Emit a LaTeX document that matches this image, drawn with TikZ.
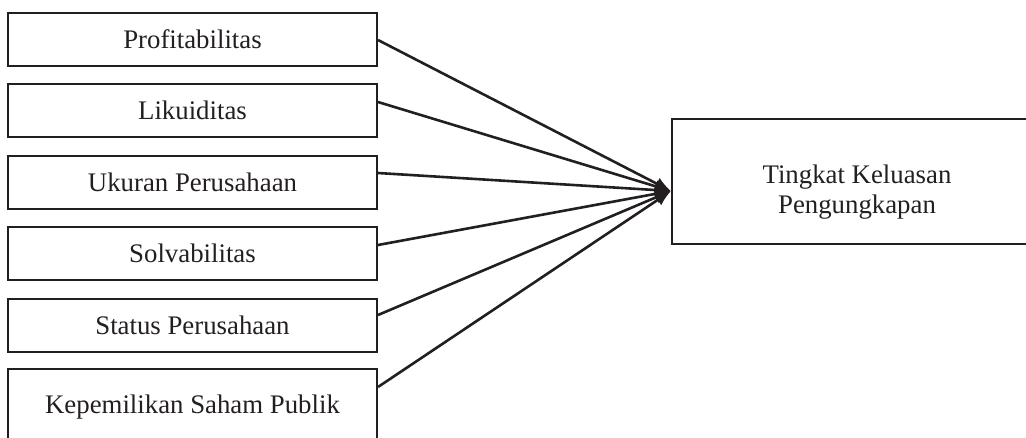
\documentclass[tikz,border=0pt]{standalone}
\usepackage{fontspec}
\setmainfont{Liberation Serif}
\usetikzlibrary{arrows.meta}
\definecolor{ink}{HTML}{231F20}
\begin{document}
\begin{tikzpicture}[x=1pt,y=-1pt,
  box/.style={draw=ink, line width=2pt, minimum width=369pt, inner sep=0pt,
    text=ink, font=\fontsize{26.8}{30}\selectfont},
  txt/.style={text=ink, inner sep=0pt, font=\fontsize{26.8}{30}\selectfont},
  conn/.style={draw=ink, line width=2.6pt, -{Latex[length=16pt,width=13pt]}}]
\useasboundingbox (0,0) rectangle (1026,437);
\clip (0,0) rectangle (1026,437);
\node[box, minimum height=53pt] (b1) at (192.5,39) {Profitabilitas};
\node[box, minimum height=53pt] (b2) at (192.5,110) {Likuiditas};
\node[box, minimum height=53pt] (b3) at (192.5,182) {Ukuran Perusahaan};
\node[box, minimum height=53pt] (b4) at (192.5,253) {Solvabilitas};
\node[box, minimum height=53pt] (b5) at (192.5,325) {Status Perusahaan};
\node[box, minimum height=76pt] (b6) at (192.5,407) {Kepemilikan Saham Publik};
\node[box, minimum width=372pt, minimum height=125pt] (tk) at (858,181.5) {};
\node[txt, align=center] (tkl) at (857,192) {Tingkat Keluasan\\Pengungkapan};
\coordinate (tip) at ([yshift=-9.5pt]tk.west);
\draw[conn] ([yshift=-1pt]b1.east) -- (tip);
\draw[conn] ([yshift=8pt]b2.east) -- (tip);
\draw[conn] ([yshift=9pt]b3.east) -- (tip);
\draw[conn] ([yshift=8pt]b4.east) -- (tip);
\draw[conn] ([yshift=10pt]b5.east) -- (tip);
\draw[conn] ([yshift=20pt]b6.east) -- (tip);
\end{tikzpicture}
\end{document}
